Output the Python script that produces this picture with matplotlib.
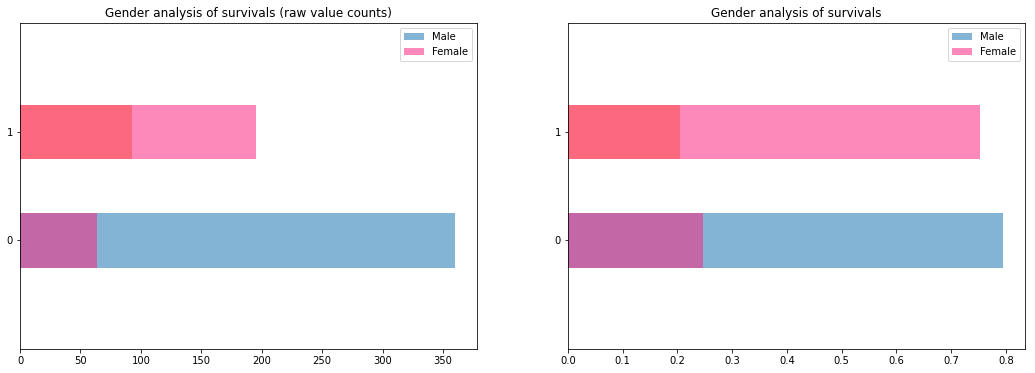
import matplotlib
matplotlib.use("Agg")
import matplotlib.pyplot as plt
import numpy as np

# survived (0/1) value counts by gender
survived = [0, 1]
male_counts = [360, 93]
female_counts = [64, 195]
male_prop = [0.795, 0.205]
female_prop = [0.247, 0.753]

male_colors = ['#1f77b4', '#ff7f0e']
female_color = '#fa2882'
alpha = 0.55

fig = plt.figure(figsize=(1035/72, 373/72), dpi=72)
ax1 = fig.add_axes([20/1035, 24/373, 457/1035, 326/373])
ax2 = fig.add_axes([568/1035, 24/373, 457/1035, 326/373])

def draw(ax, male, female, title):
	y = np.arange(len(survived))
	bm = ax.barh(y, male, height=0.5, color=male_colors, alpha=alpha, label='Male')
	bf = ax.barh(y, female, height=0.5, color=female_color, alpha=alpha, label='Female')
	ax.set_yticks(y)
	ax.set_yticklabels([str(s) for s in survived])
	ax.set_ylim(-1, 2)
	ax.set_xlim(0, max(max(male), max(female)) * 1.05)
	ax.set_title(title, fontsize=12)
	ax.legend(loc='upper right')
	ax.tick_params(labelsize=10)

draw(ax1, male_counts, female_counts, 'Gender analysis of survivals (raw value counts)')
draw(ax2, male_prop, female_prop, 'Gender analysis of survivals')

fig.savefig('out.png', dpi=72)
